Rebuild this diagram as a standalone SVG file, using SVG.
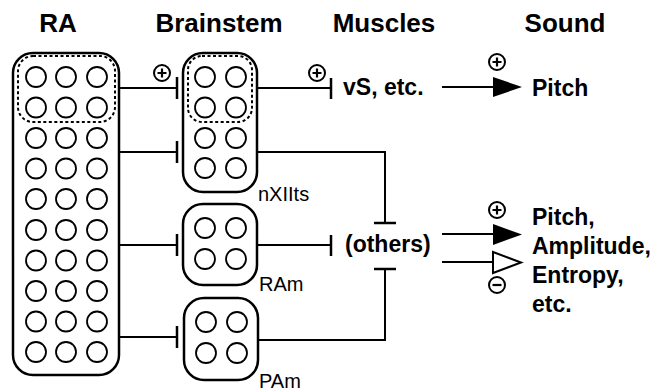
<svg xmlns="http://www.w3.org/2000/svg" width="655" height="392" viewBox="0 0 655 392">
<style>
.hdr{font-family:"Liberation Sans",Arial,sans-serif;font-weight:bold;font-size:26px;fill:#000}
.lbl{font-family:"Liberation Sans",Arial,sans-serif;font-weight:bold;font-size:23px;fill:#000}
.sm{font-family:"Liberation Sans",Arial,sans-serif;font-size:20px;fill:#000}
.box{fill:none;stroke:#000;stroke-width:2.5}
.dash{fill:none;stroke:#000;stroke-width:2;stroke-dasharray:3 2.5}
.n{fill:none;stroke:#000;stroke-width:1.8}
.ln{fill:none;stroke:#000;stroke-width:2}
.bar{fill:none;stroke:#000;stroke-width:2.5}
.sg{fill:#fff;stroke:#000;stroke-width:2}
</style>
<defs>
<g id="plus"><circle r="8" class="sg"/><path d="M-4.5 0H4.5M0 -4.5V4.5" stroke="#000" stroke-width="2.2"/></g>
<g id="minus"><circle r="8" class="sg"/><path d="M-4.5 0H4.5" stroke="#000" stroke-width="2.2"/></g>
</defs>
<rect width="655" height="392" fill="#fff"/>
<g id="headers">
<text class="hdr" x="58" y="32" text-anchor="middle">RA</text>
<text class="hdr" x="219" y="32" text-anchor="middle">Brainstem</text>
<text class="hdr" x="384" y="32" text-anchor="middle">Muscles</text>
<text class="hdr" x="565" y="32" text-anchor="middle">Sound</text>
</g>
<g id="RA">
<rect class="box" x="13" y="53" width="106" height="322" rx="20"/>
<rect class="dash" x="18" y="56" width="97" height="66" rx="15"/>
<g class="n">
<circle cx="36" cy="77" r="10"/><circle cx="66" cy="77" r="10"/><circle cx="97" cy="77" r="10"/>
<circle cx="36" cy="107.5" r="10"/><circle cx="66" cy="107.5" r="10"/><circle cx="97" cy="107.5" r="10"/>
<circle cx="36" cy="138" r="10"/><circle cx="66" cy="138" r="10"/><circle cx="97" cy="138" r="10"/>
<circle cx="36" cy="168.5" r="10"/><circle cx="66" cy="168.5" r="10"/><circle cx="97" cy="168.5" r="10"/>
<circle cx="36" cy="199" r="10"/><circle cx="66" cy="199" r="10"/><circle cx="97" cy="199" r="10"/>
<circle cx="36" cy="230" r="10"/><circle cx="66" cy="230" r="10"/><circle cx="97" cy="230" r="10"/>
<circle cx="36" cy="260.5" r="10"/><circle cx="66" cy="260.5" r="10"/><circle cx="97" cy="260.5" r="10"/>
<circle cx="36" cy="291" r="10"/><circle cx="66" cy="291" r="10"/><circle cx="97" cy="291" r="10"/>
<circle cx="36" cy="321.5" r="10"/><circle cx="66" cy="321.5" r="10"/><circle cx="97" cy="321.5" r="10"/>
<circle cx="36" cy="352" r="10"/><circle cx="66" cy="352" r="10"/><circle cx="97" cy="352" r="10"/>
</g>
</g>
<g id="nXIIts">
<rect class="box" x="183" y="53" width="74" height="139" rx="20"/>
<rect class="dash" x="188" y="56" width="64" height="66" rx="14"/>
<g class="n">
<circle cx="205" cy="77" r="10"/><circle cx="236" cy="77" r="10"/>
<circle cx="205" cy="107.5" r="10"/><circle cx="236" cy="107.5" r="10"/>
<circle cx="205" cy="138" r="10"/><circle cx="236" cy="138" r="10"/>
<circle cx="205" cy="168" r="10"/><circle cx="236" cy="168" r="10"/>
</g>
<text class="sm" x="258" y="201">nXIIts</text>
</g>
<g id="RAm">
<rect class="box" x="183" y="204" width="74" height="81" rx="20"/>
<g class="n">
<circle cx="205" cy="228" r="10"/><circle cx="236" cy="228" r="10"/>
<circle cx="205" cy="259" r="10"/><circle cx="236" cy="259" r="10"/>
</g>
<text class="sm" x="259" y="291">RAm</text>
</g>
<g id="PAm">
<rect class="box" x="184" y="298" width="74" height="82" rx="20"/>
<g class="n">
<circle cx="206" cy="322" r="10"/><circle cx="237" cy="322" r="10"/>
<circle cx="206" cy="353" r="10"/><circle cx="237" cy="353" r="10"/>
</g>
<text class="sm" x="259" y="388">PAm</text>
</g>
<g id="vS">
<text class="lbl" x="343" y="95">vS, etc.</text>
</g>
<g id="others">
<text class="lbl" x="345" y="252">(others)</text>
</g>
<g id="sound">
<text class="lbl" x="532" y="96">Pitch</text>
<text class="lbl" x="532" y="225">Pitch,</text>
<text class="lbl" x="532" y="254">Amplitude,</text>
<text class="lbl" x="532" y="283">Entropy,</text>
<text class="lbl" x="532" y="312">etc.</text>
</g>
<g id="connectors">
<path class="ln" d="M119 88H177"/><path class="bar" d="M177 77V99"/>
<path class="ln" d="M119 152H177"/><path class="bar" d="M177 141V163"/>
<path class="ln" d="M119 245H177"/><path class="bar" d="M177 234V256"/>
<path class="ln" d="M119 337H177"/><path class="bar" d="M177 326V348"/>
<path class="ln" d="M257 88H331"/><path class="bar" d="M331 78V99"/>
<path class="ln" d="M257 152H385V223"/><path class="bar" d="M374 223H396"/>
<path class="ln" d="M257 245H331"/><path class="bar" d="M331 235V256"/>
<path class="ln" d="M258 340H385V269"/><path class="bar" d="M374 269H396"/>
<path class="ln" d="M442 87H494"/><path d="M493 77L522 87L493 97Z" fill="#000"/>
<path class="ln" d="M442 234H494"/><path d="M493 224L522 234.5L493 245Z" fill="#000"/>
<path class="ln" d="M442 262H493"/><path d="M493 252L521 262.5L493 273Z" fill="#fff" stroke="#000" stroke-width="2"/>
<use href="#plus" x="162" y="73"/>
<use href="#plus" x="317" y="73"/>
<use href="#plus" x="497" y="62"/>
<use href="#plus" x="497" y="210"/>
<use href="#minus" x="497" y="285"/>
</g>
</svg>
